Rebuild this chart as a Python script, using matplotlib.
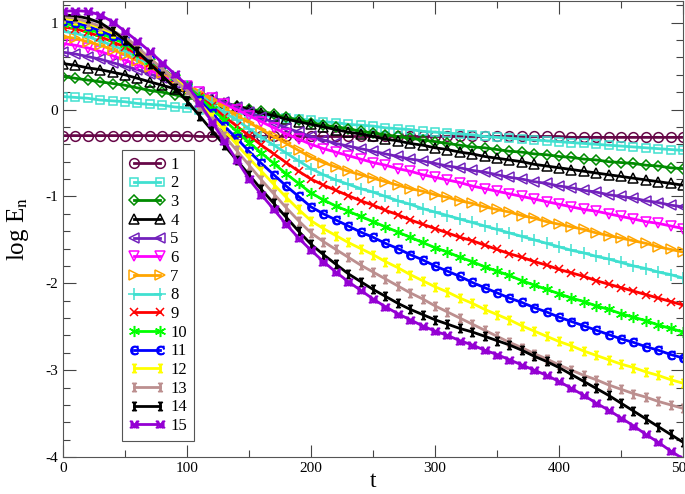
import numpy as np
import matplotlib
matplotlib.use("Agg")
import matplotlib.pyplot as plt
from matplotlib.ticker import MultipleLocator

plt.rcParams["font.family"] = ["Liberation Serif", "DejaVu Serif"]
plt.rcParams["mathtext.fontset"] = "stix"
plt.rcParams["axes.unicode_minus"] = False

# time grid: one sample every 10 time units
t = np.arange(0, 501, 10)

labels = [str(i) for i in range(1, 16)]

e1 = [-0.30, -0.30, -0.30, -0.30, -0.30, -0.30, -0.30, -0.30, -0.30, -0.30,
      -0.30, -0.31, -0.31, -0.31, -0.31, -0.31, -0.31, -0.31, -0.31, -0.31,
      -0.31, -0.31, -0.31, -0.31, -0.31, -0.31, -0.31, -0.31, -0.31, -0.31,
      -0.31, -0.31, -0.31, -0.31, -0.31, -0.31, -0.31, -0.31, -0.31, -0.31,
      -0.31, -0.32, -0.32, -0.32, -0.32, -0.32, -0.32, -0.32, -0.32, -0.32, -0.32]
e2 = [0.15, 0.14, 0.13, 0.11, 0.10, 0.09, 0.07, 0.06, 0.05, 0.03,
      0.02, 0.00, -0.01, -0.03, -0.04, -0.05, -0.07, -0.08, -0.10, -0.11,
      -0.12, -0.14, -0.15, -0.17, -0.18, -0.19, -0.21, -0.22, -0.23, -0.25,
      -0.26, -0.27, -0.28, -0.29, -0.31, -0.32, -0.33, -0.34, -0.35, -0.36,
      -0.37, -0.38, -0.39, -0.40, -0.41, -0.42, -0.43, -0.44, -0.45, -0.46, -0.47]
e3 = [0.38, 0.36, 0.34, 0.32, 0.30, 0.28, 0.25, 0.22, 0.20, 0.17,
      0.14, 0.11, 0.09, 0.06, 0.04, 0.01, -0.02, -0.05, -0.09, -0.12,
      -0.15, -0.18, -0.20, -0.22, -0.25, -0.27, -0.29, -0.31, -0.33, -0.35,
      -0.37, -0.39, -0.41, -0.43, -0.44, -0.46, -0.48, -0.49, -0.51, -0.52,
      -0.54, -0.55, -0.57, -0.58, -0.60, -0.61, -0.62, -0.64, -0.65, -0.67, -0.68]
e4 = [0.53, 0.51, 0.48, 0.46, 0.43, 0.40, 0.36, 0.32, 0.28, 0.24,
      0.20, 0.16, 0.12, 0.08, 0.04, 0.00, -0.04, -0.07, -0.11, -0.14,
      -0.17, -0.20, -0.23, -0.26, -0.28, -0.31, -0.34, -0.36, -0.39, -0.41,
      -0.44, -0.46, -0.49, -0.51, -0.54, -0.56, -0.58, -0.60, -0.63, -0.65,
      -0.67, -0.69, -0.71, -0.73, -0.75, -0.77, -0.79, -0.81, -0.83, -0.85, -0.87]
e5 = [0.66, 0.64, 0.61, 0.58, 0.54, 0.50, 0.46, 0.41, 0.36, 0.31,
      0.26, 0.20, 0.14, 0.09, 0.03, -0.03, -0.09, -0.15, -0.21, -0.26,
      -0.31, -0.35, -0.39, -0.42, -0.45, -0.48, -0.51, -0.54, -0.57, -0.59,
      -0.62, -0.65, -0.67, -0.70, -0.72, -0.75, -0.78, -0.80, -0.83, -0.85,
      -0.88, -0.90, -0.93, -0.95, -0.98, -1.00, -1.02, -1.05, -1.07, -1.10, -1.12]
e6 = [0.76, 0.74, 0.71, 0.67, 0.62, 0.57, 0.51, 0.45, 0.39, 0.33,
      0.27, 0.20, 0.13, 0.06, 0.00, -0.07, -0.14, -0.21, -0.28, -0.34,
      -0.40, -0.45, -0.49, -0.53, -0.57, -0.61, -0.64, -0.68, -0.71, -0.75,
      -0.78, -0.81, -0.84, -0.88, -0.91, -0.94, -0.97, -1.00, -1.03, -1.06,
      -1.09, -1.12, -1.15, -1.17, -1.20, -1.23, -1.26, -1.29, -1.31, -1.34, -1.37]
e7 = [0.84, 0.82, 0.78, 0.74, 0.69, 0.63, 0.56, 0.49, 0.42, 0.35,
      0.27, 0.19, 0.11, 0.02, -0.07, -0.15, -0.23, -0.31, -0.39, -0.47,
      -0.55, -0.61, -0.66, -0.71, -0.75, -0.79, -0.83, -0.87, -0.91, -0.94,
      -0.98, -1.01, -1.05, -1.08, -1.12, -1.15, -1.18, -1.22, -1.25, -1.29,
      -1.32, -1.35, -1.38, -1.42, -1.45, -1.48, -1.51, -1.54, -1.58, -1.61, -1.64]
e8 = [0.90, 0.88, 0.84, 0.79, 0.74, 0.68, 0.60, 0.52, 0.44, 0.36,
      0.27, 0.17, 0.07, -0.03, -0.12, -0.22, -0.32, -0.41, -0.50, -0.59,
      -0.68, -0.75, -0.81, -0.86, -0.91, -0.95, -1.00, -1.05, -1.09, -1.14,
      -1.18, -1.22, -1.26, -1.30, -1.34, -1.38, -1.42, -1.46, -1.50, -1.54,
      -1.58, -1.62, -1.65, -1.69, -1.72, -1.76, -1.80, -1.83, -1.87, -1.90, -1.94]
e9 = [0.95, 0.93, 0.89, 0.84, 0.78, 0.72, 0.63, 0.54, 0.45, 0.36,
      0.27, 0.15, 0.04, -0.08, -0.19, -0.30, -0.41, -0.51, -0.61, -0.71,
      -0.80, -0.87, -0.93, -0.99, -1.05, -1.10, -1.16, -1.21, -1.27, -1.32,
      -1.37, -1.42, -1.47, -1.51, -1.56, -1.61, -1.66, -1.70, -1.75, -1.79,
      -1.84, -1.88, -1.92, -1.97, -2.01, -2.05, -2.09, -2.13, -2.17, -2.21, -2.25]
e10 = [0.99, 0.97, 0.93, 0.88, 0.82, 0.76, 0.66, 0.56, 0.47, 0.37,
       0.27, 0.14, 0.01, -0.12, -0.25, -0.38, -0.50, -0.62, -0.74, -0.85,
       -0.96, -1.04, -1.11, -1.17, -1.23, -1.29, -1.35, -1.41, -1.47, -1.53,
       -1.59, -1.64, -1.70, -1.75, -1.81, -1.86, -1.91, -1.97, -2.02, -2.07,
       -2.12, -2.17, -2.21, -2.26, -2.30, -2.35, -2.39, -2.43, -2.48, -2.52, -2.56]
e11 = [1.02, 1.00, 0.96, 0.91, 0.85, 0.79, 0.68, 0.58, 0.47, 0.37,
       0.26, 0.11, -0.04, -0.19, -0.33, -0.48, -0.62, -0.75, -0.88, -1.00,
       -1.12, -1.20, -1.27, -1.34, -1.41, -1.47, -1.54, -1.60, -1.67, -1.73,
       -1.80, -1.86, -1.92, -1.99, -2.05, -2.11, -2.17, -2.22, -2.28, -2.33,
       -2.39, -2.44, -2.49, -2.54, -2.59, -2.64, -2.68, -2.73, -2.77, -2.82, -2.86]
e12 = [1.05, 1.03, 0.99, 0.94, 0.88, 0.82, 0.70, 0.59, 0.47, 0.36,
       0.25, 0.08, -0.08, -0.24, -0.40, -0.56, -0.71, -0.86, -1.01, -1.15,
       -1.28, -1.37, -1.45, -1.53, -1.60, -1.67, -1.75, -1.82, -1.90, -1.97,
       -2.04, -2.10, -2.17, -2.23, -2.30, -2.36, -2.42, -2.49, -2.55, -2.61,
       -2.67, -2.72, -2.78, -2.83, -2.88, -2.93, -2.97, -3.02, -3.06, -3.11, -3.15]
e13 = [1.07, 1.05, 1.01, 0.96, 0.90, 0.84, 0.72, 0.59, 0.47, 0.34,
       0.22, 0.04, -0.13, -0.30, -0.47, -0.64, -0.81, -0.97, -1.13, -1.28,
       -1.42, -1.52, -1.61, -1.70, -1.79, -1.87, -1.95, -2.03, -2.11, -2.18,
       -2.26, -2.33, -2.40, -2.47, -2.54, -2.61, -2.68, -2.74, -2.81, -2.87,
       -2.94, -3.00, -3.06, -3.11, -3.17, -3.22, -3.27, -3.31, -3.36, -3.40, -3.44]
e14 = [1.09, 1.08, 1.05, 1.00, 0.91, 0.80, 0.67, 0.53, 0.39, 0.25,
       0.10, -0.07, -0.24, -0.41, -0.58, -0.75, -0.92, -1.08, -1.24, -1.40,
       -1.55, -1.67, -1.78, -1.89, -1.98, -2.07, -2.15, -2.23, -2.30, -2.36,
       -2.42, -2.47, -2.52, -2.56, -2.61, -2.66, -2.71, -2.77, -2.84, -2.90,
       -2.97, -3.05, -3.13, -3.21, -3.29, -3.38, -3.47, -3.56, -3.65, -3.74, -3.83]
e15 = [1.13, 1.14, 1.13, 1.09, 1.01, 0.90, 0.79, 0.67, 0.54, 0.41,
       0.28, 0.08, -0.14, -0.36, -0.58, -0.80, -0.98, -1.15, -1.32, -1.48,
       -1.62, -1.75, -1.87, -1.98, -2.08, -2.18, -2.27, -2.35, -2.42, -2.49,
       -2.55, -2.60, -2.66, -2.71, -2.77, -2.82, -2.88, -2.94, -3.00, -3.06,
       -3.13, -3.21, -3.29, -3.38, -3.46, -3.55, -3.64, -3.74, -3.83, -3.93, -4.02]

series = [e1, e2, e3, e4, e5, e6, e7, e8, e9, e10, e11, e12, e13, e14, e15]

colors = ["#670748", "#40E0D0", "#008B00", "black", "#7221BC",
          "#FF00FF", "#FFA500", "#40E0D0", "#FF0000", "#00FF00",
          "#0000FF", "#FFFF00", "#BC8F8F", "black", "#9400D3"]
markers = ["o", "s", "D", "^", "<", "v", ">", "+", "x", (6, 2, 0),
           r"$\mathrm{C}$", r"$\mathrm{I}$", r"$\mathrm{I}$", r"$\mathrm{I}$", r"$\mathrm{M}$"]
msizes = [7, 6, 5, 7, 7, 7, 7, 8, 6, 8, 6, 6, 6, 6, 6]

fig = plt.figure(figsize=(6.85, 4.94), dpi=100)
ax = fig.add_axes([63 / 685, 37 / 494, 620 / 685, 456 / 494])

for y, c, m, ms, lab in zip(series, colors, markers, msizes, labels):
    ax.plot(t, y, color=c, lw=2.0, marker=m, ms=ms, mfc="none", mec=c,
            mew=1.1, label=lab)

ax.set_xlim(0, 500)
ax.set_ylim(-4, 1.25)
ax.xaxis.set_major_locator(MultipleLocator(100))
ax.xaxis.set_minor_locator(MultipleLocator(50))
ax.yaxis.set_major_locator(MultipleLocator(1))
ax.yaxis.set_minor_locator(MultipleLocator(0.2))
ax.tick_params(which="both", direction="in", top=True, right=True,
               labelsize=11, color="#444444")
ax.tick_params(which="major", length=9, width=0.8)
ax.tick_params(which="minor", length=5, width=0.8)
for sp in ax.spines.values():
    sp.set_color("#555555")
    sp.set_linewidth(0.8)

ax.set_xlabel("t", fontsize=17, labelpad=-3)
ax.set_ylabel(r"log E$_\mathrm{n}$", fontsize=18, labelpad=10)

leg = ax.legend(loc="upper left", bbox_to_anchor=(0.095, 0.673), numpoints=2,
                handlelength=2.2, handletextpad=0.3, labelspacing=0.16,
                fontsize=12, fancybox=False, framealpha=1, borderpad=0.4,
                borderaxespad=0)
leg.get_frame().set_edgecolor("#555555")
leg.get_frame().set_linewidth(0.8)

fig.savefig("out.png", dpi=100)
